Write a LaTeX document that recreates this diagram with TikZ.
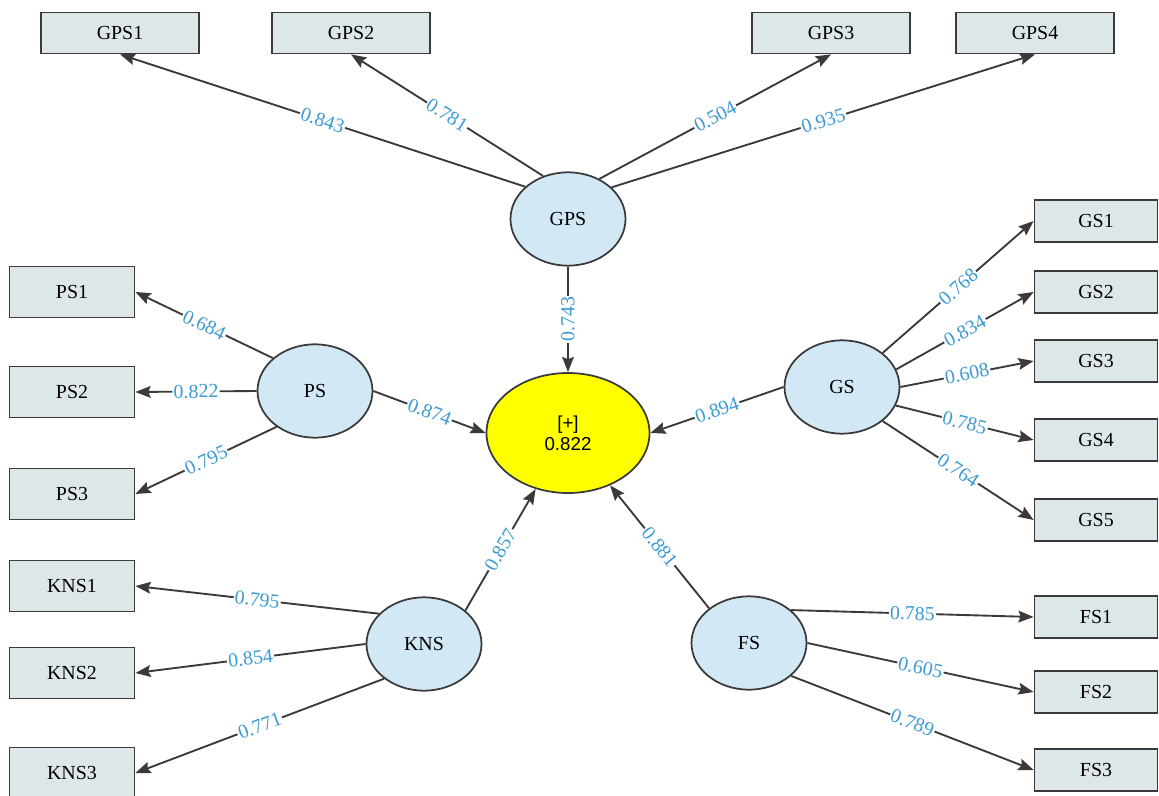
\documentclass[tikz,border=0pt]{standalone}
\usepackage{fontspec}
\setmainfont{Liberation Serif}
\newfontfamily\ysans{Liberation Sans}
\usepackage{tikz}
\usetikzlibrary{shapes, arrows.meta, positioning}

\definecolor{indfill}{HTML}{DDE7E9}
\definecolor{latfill}{HTML}{D2E8F4}
\definecolor{linegray}{HTML}{3A3A3A}
\definecolor{loadblue}{HTML}{3C9BD2}
\definecolor{compfill}{HTML}{FFFF00}

\begin{document}
\begin{tikzpicture}[x=0.03cm, y=-0.03cm, >={Stealth[length=13pt, width=10pt, inset=2pt]},
    ind/.style={draw=linegray, line width=1.5pt, fill=indfill, inner sep=0pt, font=\fontsize{17}{17}\selectfont},
    indtop/.style={ind, minimum width=4.74cm, minimum height=1.23cm},
    indleft/.style={ind, minimum width=3.75cm, minimum height=1.53cm},
    indright/.style={ind, minimum width=3.69cm, minimum height=1.26cm},
    lat/.style={ellipse, draw=linegray, line width=1.5pt, fill=latfill, minimum width=3.45cm, minimum height=2.8cm, inner sep=0pt, font=\fontsize{17}{17}\selectfont},
    comp/.style={ellipse, draw=linegray, line width=1.5pt, fill=compfill, minimum width=4.89cm, minimum height=3.6cm, inner sep=0pt, align=center, font=\ysans\fontsize{16}{18}\selectfont},
    ldline/.style={->, line width=1.6pt, draw=linegray},
    load/.style={text=loadblue, fill=white, inner sep=1pt, font=\fontsize{17}{17}\selectfont}]

    \useasboundingbox (0,0) rectangle (1159,796);

    % Composite in the centre
    \node[comp] (Y) at (568,433) {[+]\\0.822};

    % Latent constructs
    \node[lat] (GPS) at (568,219) {GPS};
    \node[lat] (PS) at (315,391) {PS};
    \node[lat] (GS) at (842,387) {GS};
    \node[lat] (KNS) at (424,644) {KNS};
    \node[lat] (FS) at (749,643) {FS};

    % GPS indicators
    \foreach \n/\x/\v/\a in {1/120/0.843/143, 2/351/0.781/120, 3/831/0.504/52, 4/1035/0.935/36} {
        \node[indtop] (GPS\n) at (\x,33) {GPS\n};
        \draw[ldline] (GPS.\a) -- (GPS\n.south) node[load, midway, sloped] {\v};
    }

    % PS indicators
    \foreach \n/\y/\v/\a in {1/292/0.684/142, 2/392/0.822/180, 3/494/0.795/223} {
        \node[indleft] (PS\n) at (72,\y) {PS\n};
        \draw[ldline] (PS.\a) -- (PS\n.east) node[load, midway, sloped] {\v};
    }

    % KNS indicators
    \foreach \n/\y/\v/\a in {1/586/0.795/146, 2/673/0.854/180, 3/773/0.771/221} {
        \node[indleft] (KNS\n) at (72,\y) {KNS\n};
        \draw[ldline] (KNS.\a) -- (KNS\n.east) node[load, midway, sloped] {\v};
    }

    % GS indicators
    \foreach \n/\y/\v/\a in {1/221/0.768/40, 2/292/0.834/18, 3/361/0.608/0, 4/440/0.785/-19, 5/520/0.764/-40} {
        \node[indright] (GS\n) at (1096,\y) {GS\n};
        \draw[ldline] (GS.\a) -- (GS\n.west) node[load, midway, sloped] {\v};
    }

    % FS indicators
    \foreach \n/\y/\v/\a in {1/617/0.785/38, 2/692/0.605/0, 3/770/0.789/-38} {
        \node[indright] (FS\n) at (1096,\y) {FS\n};
        \draw[ldline] (FS.\a) -- (FS\n.west) node[load, midway, sloped] {\v};
    }

    % Paths into the composite
    \draw[ldline] (GPS) -- (Y) node[load, midway, rotate=90] {0.743};
    \draw[ldline] (PS.east) -- (Y.west) node[load, midway, sloped] {0.874};
    \draw[ldline] (GS.west) -- (Y.east) node[load, midway, sloped] {0.894};
    \draw[ldline] (KNS.39) -- (Y) node[load, midway, sloped] {0.857};
    \draw[ldline] (FS.139) -- (Y) node[load, midway, sloped] {0.881};
\end{tikzpicture}
\end{document}
